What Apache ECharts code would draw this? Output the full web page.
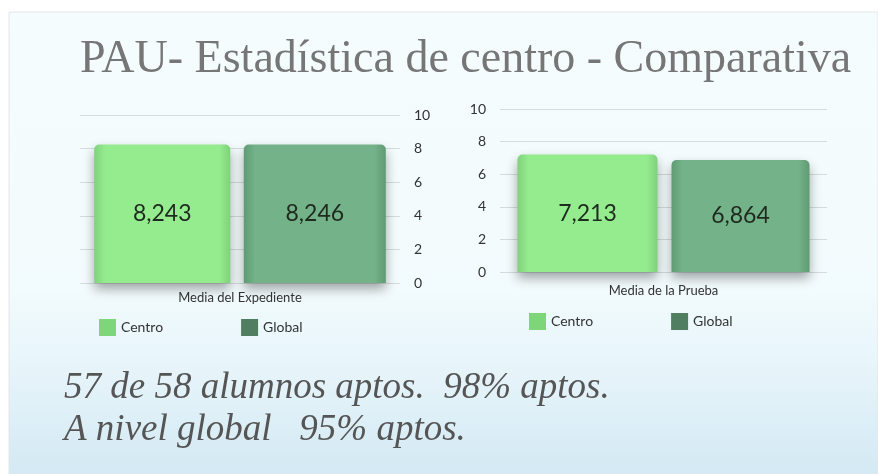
<!DOCTYPE html>
<html>
<head>
<meta charset="utf-8">
<script src="https://cdn.jsdelivr.net/npm/echarts@6/dist/echarts.min.js"></script>
<style>
  html, body { margin: 0; padding: 0; background: #fff; }
</style>
</head>
<body>
<div id="main" style="width:878px;height:474px"></div>
<script>
// datos
const categoriasExp = ['Media del Expediente']
const categoriasPrueba = ['Media de la Prueba']
const centroExp = [8.243]
const globalExp = [8.246]
const centroPrueba = [7.213]
const globalPrueba = [6.864]
const yTicks = [0, 2, 4, 6, 8, 10]

const fmt = (p) => p.value.toFixed(3).replace('.', ',')

const verdeCentro = {
  type: 'linear', x: 0, y: 0, x2: 1, y2: 0,
  colorStops: [
    { offset: 0, color: '#7fd27b' },
    { offset: 0.08, color: '#95ec8f' },
    { offset: 0.92, color: '#95ec8f' },
    { offset: 1, color: '#7fd27b' }
  ]
}
const verdeGlobal = {
  type: 'linear', x: 0, y: 0, x2: 1, y2: 0,
  colorStops: [
    { offset: 0, color: '#5f9b72' },
    { offset: 0.08, color: '#74b28a' },
    { offset: 0.92, color: '#74b28a' },
    { offset: 1, color: '#5f9b72' }
  ]
}

const sans = 'Lato'
const barLabel = {
  show: true, position: 'inside', formatter: fmt,
  fontFamily: sans, fontSize: 23, color: '#1e2a1e'
}
const sombra = { shadowColor: 'rgba(0,0,0,0.35)', shadowBlur: 12, shadowOffsetY: 6, borderRadius: [5, 5, 0, 0] }

const yAxisBase = {
  type: 'value', min: yTicks[0], max: yTicks[yTicks.length - 1], interval: 2,
  axisLine: { show: false }, axisTick: { show: false },
  axisLabel: { fontFamily: sans, fontSize: 14, color: '#333', margin: 14 },
  splitLine: { lineStyle: { color: '#d4dcdc', width: 1 } }
}
const xAxisBase = {
  type: 'category',
  axisLine: { show: false }, axisTick: { show: false },
  axisLabel: { fontFamily: sans, fontSize: 13, color: '#333' }
}
const legendBase = {
  icon: 'rect', itemWidth: 17, itemHeight: 17, itemGap: 78,
  textStyle: { fontFamily: sans, fontSize: 14, color: '#333' }
}

const chart = echarts.init(document.getElementById('main'))
chart.setOption({
  backgroundColor: '#ffffff',
  animation: false,
  graphic: [
    {
      type: 'rect', z: -10, silent: true,
      shape: { x: 9, y: 12, width: 869, height: 462 },
      style: {
        fill: {
          type: 'linear', x: 0, y: 0, x2: 0, y2: 1,
          colorStops: [
            { offset: 0, color: '#f5fcfd' },
            { offset: 0.6, color: '#f2fbfd' },
            { offset: 0.78, color: '#e6f4fa' },
            { offset: 1, color: '#d3e9f3' }
          ]
        },
        stroke: '#e2e6e8', lineWidth: 1
      }
    },
    {
      type: 'text', left: 80, top: 37,
      style: {
        text: 'PAU- Estadística de centro - Comparativa',
        font: '46px "Liberation Serif"', fill: '#767676'
      }
    },
    {
      type: 'text', left: 64, top: 367,
      style: {
        text: '57 de 58 alumnos aptos.  98% aptos.\nA nivel global   95% aptos.',
        font: 'italic 37px "Liberation Serif"', fill: '#555555', lineHeight: 42
      }
    }
  ],
  legend: [
    Object.assign({}, legendBase, {
      left: 94, top: 314,
      data: [
        { name: 'Centro', itemStyle: { color: '#7dd67a' } },
        { name: 'Global', itemStyle: { color: '#4f7e60' } }
      ]
    }),
    Object.assign({}, legendBase, {
      left: 524, top: 308,
      data: [
        { name: 'Centro', itemStyle: { color: '#7dd67a' } },
        { name: 'Global', itemStyle: { color: '#4f7e60' } }
      ]
    })
  ],
  grid: [
    { left: 80, right: 478, top: 115, bottom: 191 },
    { left: 500, right: 51, top: 109, bottom: 202 }
  ],
  xAxis: [
    Object.assign({}, xAxisBase, { gridIndex: 0, data: categoriasExp, axisLabel: Object.assign({}, xAxisBase.axisLabel, { margin: 8 }) }),
    Object.assign({}, xAxisBase, { gridIndex: 1, data: categoriasPrueba, axisLabel: Object.assign({}, xAxisBase.axisLabel, { margin: 12 }) })
  ],
  yAxis: [
    Object.assign({}, yAxisBase, { gridIndex: 0, position: 'right' }),
    Object.assign({}, yAxisBase, { gridIndex: 1, position: 'left' })
  ],
  series: [
    {
      name: 'Centro', type: 'bar', xAxisIndex: 0, yAxisIndex: 0,
      barWidth: 136, barGap: '10%', data: centroExp,
      itemStyle: Object.assign({ color: verdeCentro }, sombra), label: barLabel
    },
    {
      name: 'Global', type: 'bar', xAxisIndex: 0, yAxisIndex: 0,
      barWidth: 142, barGap: '10%', data: globalExp,
      itemStyle: Object.assign({ color: verdeGlobal }, sombra), label: barLabel
    },
    {
      name: 'Centro', type: 'bar', xAxisIndex: 1, yAxisIndex: 1,
      barWidth: 140, barGap: '10%', data: centroPrueba,
      itemStyle: Object.assign({ color: verdeCentro }, sombra), label: barLabel
    },
    {
      name: 'Global', type: 'bar', xAxisIndex: 1, yAxisIndex: 1,
      barWidth: 138, barGap: '10%', data: globalPrueba,
      itemStyle: Object.assign({ color: verdeGlobal }, sombra), label: barLabel
    }
  ]
})
</script>
</body>
</html>
